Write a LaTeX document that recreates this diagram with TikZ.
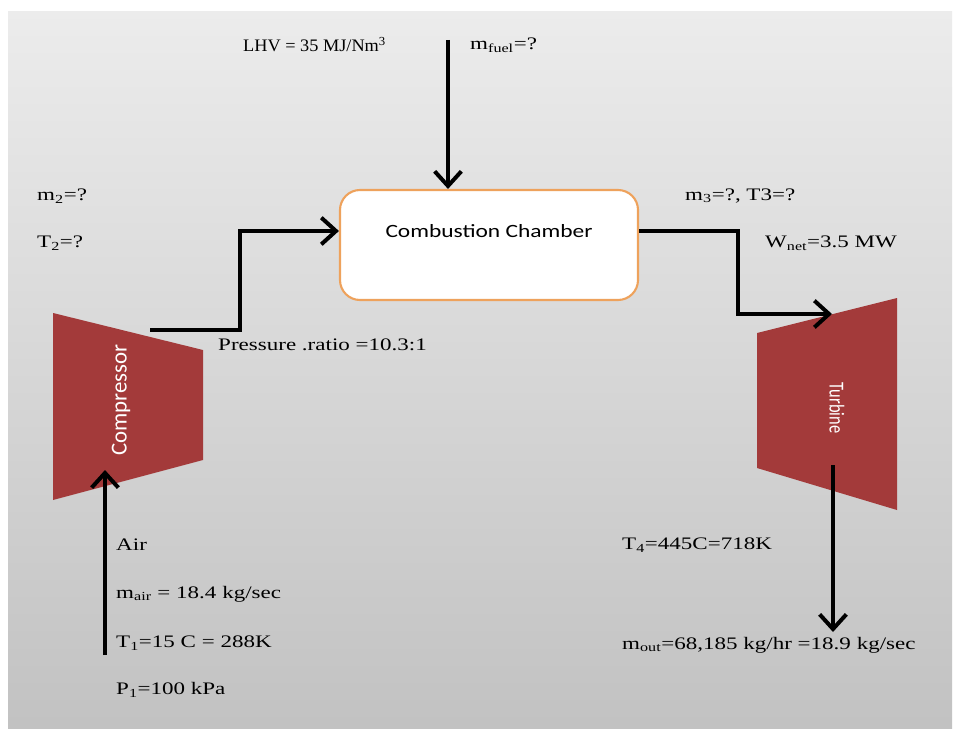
\documentclass[tikz,border=0pt]{standalone}
\usepackage{fontspec}
\setmainfont[FakeStretch=1.31]{Liberation Serif}
\newfontfamily\lhvfont[FakeStretch=1.04]{Liberation Serif}
\newfontfamily\boxfont[FakeStretch=1.25]{Carlito}
\newfontfamily\machfont{Carlito}
\usetikzlibrary{arrows.meta,positioning,calc}
\definecolor{machred}{RGB}{163,58,58}
\definecolor{chamberedge}{RGB}{238,162,92}
\tikzset{
  flow/.style={draw,line width=3.4pt,-{Straight Barb[length=4.4mm,width=8mm]}},
  txt/.style={anchor=west,inner sep=0pt,font=\fontsize{15}{18}\selectfont},
  machtxt/.style={text=white,inner sep=0pt},
  chamber/.style={draw=chamberedge,fill=white,line width=1.8pt,rounded corners=0.6cm,
    minimum width=8.94cm,minimum height=3.3cm},
}

\begin{document}
\begin{tikzpicture}[x=0.03cm,y=-0.03cm]

% page and slide
\useasboundingbox (0,0) rectangle (958,736);
\fill[white] (0,0) rectangle (958,736);
\shade[top color=gray!15,bottom color=gray!48] (8,12) rectangle (952,728);

% machines
\fill[machred] (53,313) -- (203,350) -- (203,460) -- (53,500) -- cycle;
\fill[machred] (757,333) -- (897,298) -- (897,510) -- (757,468) -- cycle;
\node[machtxt,rotate=90,font=\machfont\fontsize{19.5}{22}\selectfont] (comp) at (121,400) {Compressor};
\node[machtxt,rotate=-90,yscale=1.3,font=\machfont\fontsize{14}{17}\selectfont] (turb) at (837,408) {Turbine};

\node[chamber] (cc) at (489,245) {};
\node[inner sep=0pt,font=\boxfont\fontsize{16}{19}\selectfont] (cclabel) at (489,231) {Combustion Chamber};

% ends of the flows
\coordinate (fuelin) at (448,40);
\coordinate (compout) at (150,330);
\coordinate (ccin) at (cc.west |- cclabel);
\coordinate (ccout) at (cc.east |- cclabel);
\coordinate (turbin) at (832,314);
\coordinate (turbout) at (833,465);
\coordinate (exhaust) at (833,632);
\coordinate (airin) at (105,655);
\coordinate (compin) at (105,470);

\draw[flow] (fuelin) -- (fuelin |- cc.north);
\draw[flow] (compout) -- (240,330) |- (ccin);
\draw[flow] (ccout) -- (738,231) |- (turbin);
\draw[flow] (turbout) -- (exhaust);
\draw[flow] (airin) -- (compin);

% data
\node[txt,font=\lhvfont\fontsize{15}{18}\selectfont] (lhv) at (243,45) {LHV = 35 MJ/Nm\textsuperscript{3}};
\node[txt] (mfuel) at (470,45) {m\textsubscript{fuel}=?};
\node[txt] (m2) at (37,196) {m\textsubscript{2}=?};
\node[txt] (t2) at (37,243) {T\textsubscript{2}=?};
\node[txt] (m3) at (685,196) {m\textsubscript{3}=?, T3=?};
\node[txt] (wnet) at (765,243) {W\textsubscript{net}=3.5 MW};
\node[txt] (pr) at (218,345) {Pressure .ratio =10.3:1};
\node[txt] (air) at (116,545) {Air};
\node[txt] (mair) at (116,594) {m\textsubscript{air} = 18.4 kg/sec};
\node[txt] (t1) at (116,643) {T\textsubscript{1}=15 C = 288K};
\node[txt] (p1) at (116,690) {P\textsubscript{1}=100 kPa};
\node[txt] (t4) at (622,545) {T\textsubscript{4}=445C=718K};
\node[txt] (mout) at (622,645) {m\textsubscript{out}=68,185 kg/hr =18.9 kg/sec};

\end{tikzpicture}
\end{document}
